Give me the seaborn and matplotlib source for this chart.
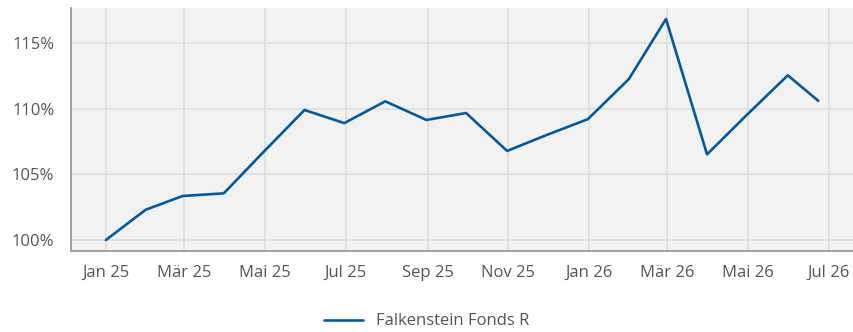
import matplotlib
matplotlib.use("Agg")
import matplotlib.pyplot as plt
import matplotlib.dates as mdates
from matplotlib.ticker import FixedLocator, FuncFormatter
import pandas as pd
import seaborn as sns

# Month-end valuation dates and indexed fund performance (start = 100%)
dates = [
    "2025-01-01", "2025-01-31", "2025-02-28", "2025-03-31", "2025-04-30",
    "2025-05-31", "2025-06-30", "2025-07-31", "2025-08-31", "2025-09-30",
    "2025-10-31", "2025-11-30", "2025-12-31", "2026-01-31", "2026-02-28",
    "2026-03-31", "2026-04-30", "2026-05-31", "2026-06-23",
]
values = [
    100.0, 102.3, 103.35, 103.55, 106.7,
    109.9, 108.9, 110.56, 109.14, 109.67,
    106.78, 108.0, 109.2, 112.26, 116.83,
    106.52, 109.52, 112.54, 110.6,
]
series_name = "Falkenstein Fonds R"

tick_dates = ["2025-01-01", "2025-03-01", "2025-05-01", "2025-07-01", "2025-09-01",
              "2025-11-01", "2026-01-01", "2026-03-01", "2026-05-01", "2026-07-01"]
tick_labels = ["Jan 25", "Mär 25", "Mai 25", "Jul 25", "Sep 25",
               "Nov 25", "Jan 26", "Mär 26", "Mai 26", "Jul 26"]
y_ticks = [100, 105, 110, 115]

df = pd.DataFrame({"Datum": pd.to_datetime(dates), "Wert": values, "Fonds": series_name})

sns.set_theme(style="white")
plt.rcParams["font.family"] = ["Open Sans", "DejaVu Sans"]

text_color = "#555555"
grid_color = "#dcdcdc"
line_color = "#05599b"
font_size = 12

fig = plt.figure(figsize=(8.54, 3.32), dpi=100)
ax = fig.add_axes([0.0831, 0.244, 0.9169, 0.732])
ax.set_facecolor("#f2f2f2")

sns.lineplot(data=df, x="Datum", y="Wert", hue="Fonds", palette=[line_color],
             linewidth=1.9, ax=ax)

start = pd.Timestamp("2025-01-01")
ax.set_xlim(start - pd.Timedelta(days=26.4), start + pd.Timedelta(days=565))
ax.set_ylim(99.16, 117.67)

ax.xaxis.set_major_locator(FixedLocator([mdates.date2num(pd.Timestamp(d)) for d in tick_dates]))
ax.set_xticklabels(tick_labels)
ax.set_yticks(y_ticks)
ax.yaxis.set_major_formatter(FuncFormatter(lambda v, p: f"{v:.0f}%"))

ax.grid(True, color=grid_color, linewidth=1.1)
ax.set_axisbelow(True)
ax.tick_params(axis="x", length=3, color=grid_color, width=1.1, pad=7,
               labelsize=font_size, labelcolor=text_color)
ax.tick_params(axis="y", length=0, pad=12, labelsize=font_size, labelcolor=text_color)

for side in ("top", "right"):
    ax.spines[side].set_visible(False)
for side in ("left", "bottom"):
    ax.spines[side].set_color("#9a9a9a")
    ax.spines[side].set_linewidth(1.3)

ax.set_xlabel("")
ax.set_ylabel("")

handles, labels = ax.get_legend_handles_labels()
ax.legend(handles, labels, loc="center", bbox_to_anchor=(0.5, 0.032),
          bbox_transform=fig.transFigure, frameon=False, handlelength=2.3,
          handletextpad=0.8, prop={"size": font_size})
for t in ax.get_legend().get_texts():
    t.set_color(text_color)

fig.savefig("out.png", dpi=100)
